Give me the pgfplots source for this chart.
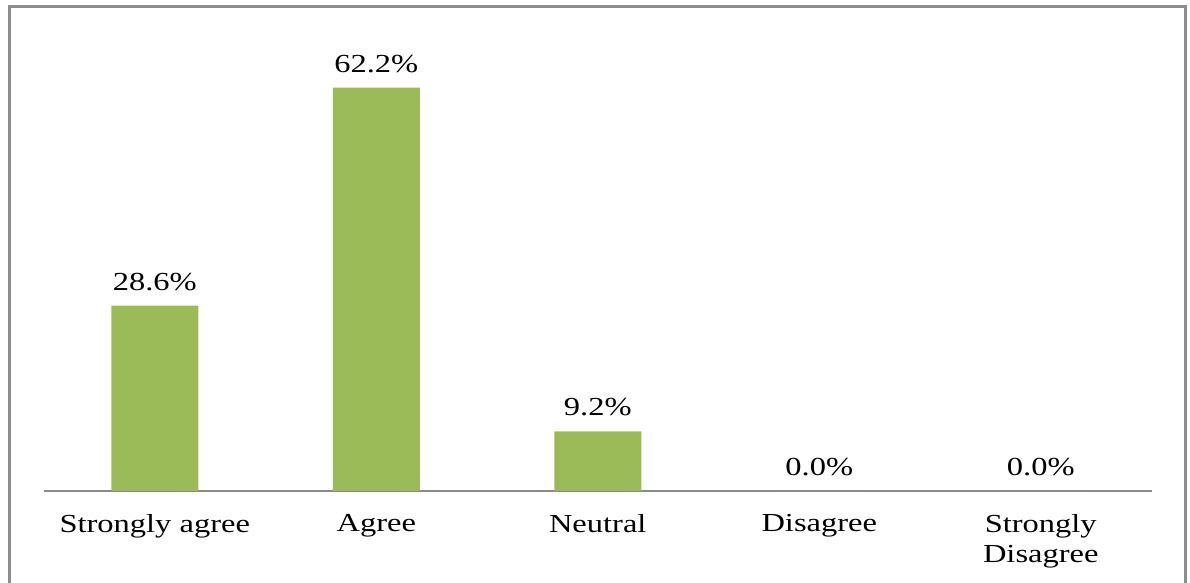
\documentclass[border=0pt]{standalone}
\usepackage{fontspec}
\setmainfont{Liberation Serif}[FakeStretch=1.25]
\usepackage{pgfplots}
\pgfplotsset{compat=1.18}
\definecolor{bargreen}{HTML}{9BBB59}
\definecolor{framegray}{HTML}{8C8C8C}
\definecolor{axisgray}{HTML}{8A8A8A}
\begin{document}
\begin{tikzpicture}[font=\fontsize{13}{15}\selectfont]
\useasboundingbox (0,0) rectangle (595pt,291.5pt);
\clip (0,0) rectangle (595pt,291.5pt);
\begin{axis}[
  at={(22pt,46pt)}, anchor=south west,
  scale only axis,
  width=553.75pt, height=227pt,
  xmin=-0.5, xmax=4.5, ymin=0, ymax=70,
  axis x line*=bottom, axis y line=none,
  x axis line style={draw=axisgray, line width=0.75pt, -},
  xtick=data,
  xticklabels={Strongly agree, Agree, Neutral, Disagree, {Strongly\\Disagree}},
  xticklabel style={align=center, font=\fontsize{13}{15}\selectfont, yshift=-8pt},
  major tick length=0pt,
  ybar, bar width=43.5pt,
  /pgf/number format/assume math mode=true,
  nodes near coords={\pgfmathprintnumber[fixed, fixed zerofill, precision=1, assume math mode=true]{\pgfplotspointmeta}\%},
  nodes near coords style={font=\fontsize{13}{15}\selectfont, text=black, yshift=4pt},
  clip=false,
]
\addplot[fill=bargreen, draw=none] coordinates {(0,28.6) (1,62.2) (2,9.2) (3,0.0) (4,0.0)};
\end{axis}
\draw[framegray, line width=1.5pt] (4.5pt,-5pt) -- (4.5pt,288pt) -- (592.75pt,288pt) -- (592.75pt,-5pt);
\end{tikzpicture}
\end{document}
